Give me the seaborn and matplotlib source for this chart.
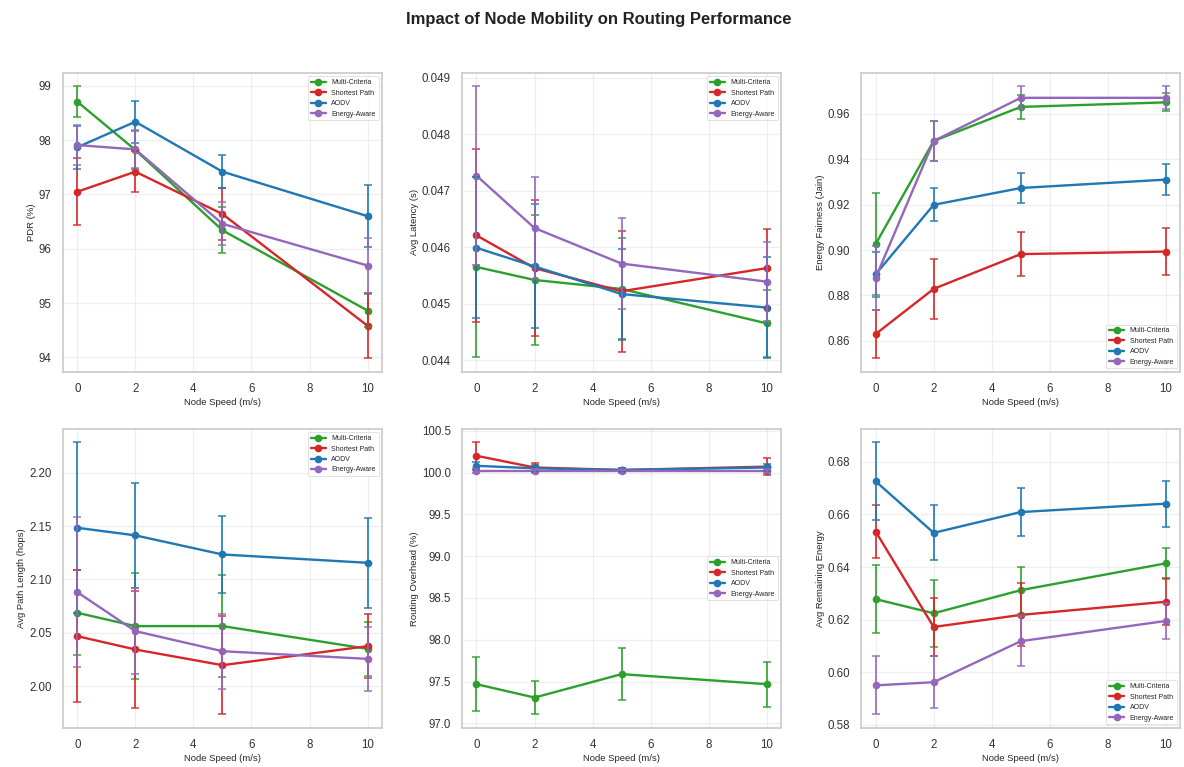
import numpy as np
import pandas as pd
import matplotlib
matplotlib.use("Agg")
import matplotlib.pyplot as plt
import seaborn as sns

# DATOS
speeds = [0, 2, 5, 10]
methods = ["Multi-Criteria", "Shortest Path", "AODV", "Energy-Aware"]
colors = ["#2ca02c", "#d62728", "#1f77b4", "#9467bd"]

pdr_mean = {
    "Multi-Criteria": [98.71, 97.82, 96.34, 94.86],
    "Shortest Path": [97.05, 97.42, 96.64, 94.58],
    "AODV": [97.87, 98.34, 97.42, 96.60],
    "Energy-Aware": [97.91, 97.83, 96.46, 95.69],
}
pdr_err = {
    "Multi-Criteria": [0.28, 0.35, 0.42, 0.30],
    "Shortest Path": [0.62, 0.38, 0.48, 0.60],
    "AODV": [0.40, 0.39, 0.30, 0.57],
    "Energy-Aware": [0.37, 0.35, 0.40, 0.50],
}

lat_mean = {
    "Multi-Criteria": [0.04565, 0.04542, 0.04526, 0.04465],
    "Shortest Path": [0.04621, 0.04563, 0.04522, 0.04563],
    "AODV": [0.04599, 0.04566, 0.04517, 0.04493],
    "Energy-Aware": [0.04727, 0.04634, 0.04571, 0.04539],
}
lat_err = {
    "Multi-Criteria": [0.00160, 0.00115, 0.00090, 0.00060],
    "Shortest Path": [0.00154, 0.00120, 0.00107, 0.00070],
    "AODV": [0.00125, 0.00110, 0.00080, 0.00090],
    "Energy-Aware": [0.00158, 0.00090, 0.00080, 0.00070],
}

fair_mean = {
    "Multi-Criteria": [0.9026, 0.9480, 0.9630, 0.9650],
    "Shortest Path": [0.8630, 0.8829, 0.8982, 0.8993],
    "AODV": [0.8893, 0.9199, 0.9273, 0.9310],
    "Energy-Aware": [0.8878, 0.9480, 0.9670, 0.9670],
}
fair_err = {
    "Multi-Criteria": [0.0225, 0.0090, 0.0054, 0.0040],
    "Shortest Path": [0.0107, 0.0131, 0.0096, 0.0103],
    "AODV": [0.0100, 0.0072, 0.0065, 0.0070],
    "Energy-Aware": [0.0140, 0.0090, 0.0050, 0.0050],
}

path_mean = {
    "Multi-Criteria": [2.0688, 2.0563, 2.0563, 2.0350],
    "Shortest Path": [2.0469, 2.0344, 2.0197, 2.0375],
    "AODV": [2.1484, 2.1413, 2.1234, 2.1156],
    "Energy-Aware": [2.0881, 2.0516, 2.0328, 2.0256],
}
path_err = {
    "Multi-Criteria": [0.040, 0.050, 0.048, 0.025],
    "Shortest Path": [0.062, 0.055, 0.046, 0.030],
    "AODV": [0.080, 0.049, 0.036, 0.042],
    "Energy-Aware": [0.070, 0.040, 0.035, 0.030],
}

over_mean = {
    "Multi-Criteria": [97.47, 97.31, 97.59, 97.47],
    "Shortest Path": [100.20, 100.06, 100.03, 100.07],
    "AODV": [100.08, 100.05, 100.03, 100.06],
    "Energy-Aware": [100.02, 100.02, 100.02, 100.02],
}
over_err = {
    "Multi-Criteria": [0.32, 0.20, 0.31, 0.27],
    "Shortest Path": [0.16, 0.05, 0.02, 0.10],
    "AODV": [0.05, 0.04, 0.02, 0.04],
    "Energy-Aware": [0.02, 0.02, 0.02, 0.02],
}

ener_mean = {
    "Multi-Criteria": [0.6278, 0.6224, 0.6312, 0.6414],
    "Shortest Path": [0.6535, 0.6172, 0.6218, 0.6268],
    "AODV": [0.6726, 0.6530, 0.6609, 0.6641],
    "Energy-Aware": [0.5950, 0.5962, 0.6118, 0.6195],
}
ener_err = {
    "Multi-Criteria": [0.0130, 0.0128, 0.0090, 0.0060],
    "Shortest Path": [0.0100, 0.0110, 0.0120, 0.0090],
    "AODV": [0.0148, 0.0104, 0.0090, 0.0088],
    "Energy-Aware": [0.0110, 0.0098, 0.0095, 0.0070],
}

paneles = [
    (pdr_mean, pdr_err, "PDR (%)", "upper right"),
    (lat_mean, lat_err, "Avg Latency (s)", "upper right"),
    (fair_mean, fair_err, "Energy Fairness (Jain)", "lower right"),
    (path_mean, path_err, "Avg Path Length (hops)", "upper right"),
    (over_mean, over_err, "Routing Overhead (%)", "center right"),
    (ener_mean, ener_err, "Avg Remaining Energy", "lower right"),
]

sns.set_theme(style="whitegrid")
plt.rcParams["font.family"] = ["Liberation Sans", "DejaVu Sans"]

fig, axes = plt.subplots(2, 3, figsize=(11.84, 7.67), dpi=100)
fig.subplots_adjust(left=0.053, right=0.997, top=0.905, bottom=0.051,
                    wspace=0.25, hspace=0.19)
palette = dict(zip(methods, colors))

for ax, (medias, errores, ylabel, loc) in zip(axes.flat, paneles):
    filas = []
    for m in methods:
        for s, v, e in zip(speeds, medias[m], errores[m]):
            filas.append({"speed": s, "value": v, "err": e, "method": m})
    df = pd.DataFrame(filas)

    sns.lineplot(data=df, x="speed", y="value", hue="method", hue_order=methods,
                 palette=palette, marker="o", markersize=5.5, markeredgewidth=0,
                 linewidth=1.7, errorbar=None, ax=ax)
    for m in methods:
        sub = df[df["method"] == m]
        ax.errorbar(sub["speed"], sub["value"], yerr=sub["err"], fmt="none",
                    ecolor=palette[m], elinewidth=1.4, capsize=3, capthick=1.2,
                    alpha=0.85)

    ax.set_xlabel("Node Speed (m/s)", fontsize=6.8, labelpad=2)
    ax.set_ylabel(ylabel, fontsize=6.8, labelpad=2)
    ax.tick_params(labelsize=8.3, pad=2, colors="#333333")
    ax.set_xticks([0, 2, 4, 6, 8, 10])
    ax.grid(True, alpha=0.3)
    for sp in ax.spines.values():
        sp.set_edgecolor("#cccccc")
    leg = ax.legend(loc=loc, fontsize=5, frameon=True, handlelength=2.2)
    leg.get_frame().set_linewidth(0.5)

fig.suptitle("Impact of Node Mobility on Routing Performance",
             fontsize=12, fontweight="bold", x=0.506, y=0.985, color="#222222")

plt.savefig("out.png", dpi=100)
plt.close()
